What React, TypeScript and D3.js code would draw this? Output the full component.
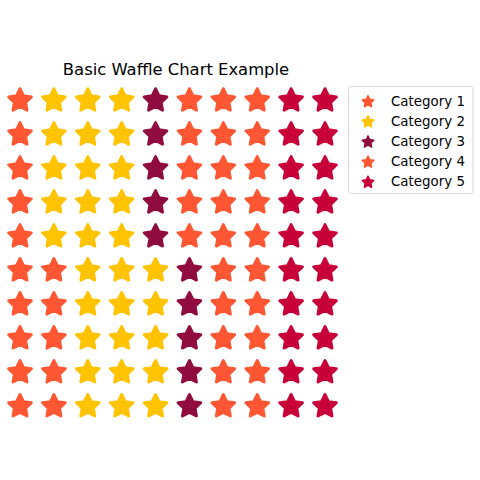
import React from "react";
import * as d3 from "d3";

const categories = ["Category 1", "Category 2", "Category 3", "Category 4", "Category 5"];
const values = [15, 30, 10, 25, 20];
const colors = ["#FF5733", "#FFC300", "#900C3F", "#FF5733", "#C70039"];

const ROWS = 10;
const COLS = 10;

function starPath(R: number): string {
  const r = R * 0.5;
  const pts: [number, number][] = [];
  for (let i = 0; i < 10; i++) {
    const rad = i % 2 === 0 ? R : r;
    const a = (Math.PI / 5) * i;
    pts.push([rad * Math.sin(a), -rad * Math.cos(a)]);
  }
  return d3.line().curve(d3.curveLinearClosed)(pts) || "";
}

export default function App() {
  const cells: { col: number; row: number; color: string }[] = [];
  let k = 0;
  values.forEach((v, ci) => {
    for (let j = 0; j < v; j++) {
      const col = Math.floor(k / ROWS);
      const row = k % ROWS;
      cells.push({ col, row, color: colors[ci] });
      k++;
    }
  });

  const x = d3.scaleLinear().domain([0, COLS - 1]).range([20, 325]);
  const y = d3.scaleLinear().domain([0, ROWS - 1]).range([406.4, 100.6]);
  const bigStar = starPath(12);
  const smallStar = starPath(6.2);
  const legendY = d3.scaleLinear().domain([0, 4]).range([101, 181.5]);

  return (
    <svg width={480} height={480} style={{ position: "absolute", left: 0, top: 0 }}>
      <rect width={480} height={480} fill="#fff" />
      <text x={176} y={75} textAnchor="middle" fontFamily="DejaVu Sans" fontSize={16.4} fill="#000">
        Basic Waffle Chart Example
      </text>
      {cells.map((c, i) => (
        <path
          key={i}
          d={bigStar}
          transform={`translate(${x(c.col)},${y(c.row)})`}
          fill={c.color}
          stroke={c.color}
          strokeWidth={2.8}
          strokeLinejoin="round"
        />
      ))}
      <rect x={348.5} y={86.5} width={124.5} height={107} rx={3} fill="#fff" stroke="#d6d6d6" strokeWidth={1} />
      {categories.map((name, i) => (
        <g key={name}>
          <path
            d={smallStar}
            transform={`translate(368,${legendY(i) + 0.8})`}
            fill={colors[i]}
            stroke={colors[i]}
            strokeWidth={1.4}
            strokeLinejoin="round"
          />
          <text x={391} y={legendY(i) + 4.8} fontFamily="DejaVu Sans" fontSize={13.4} fill="#000">
            {name}
          </text>
        </g>
      ))}
    </svg>
  );
}
